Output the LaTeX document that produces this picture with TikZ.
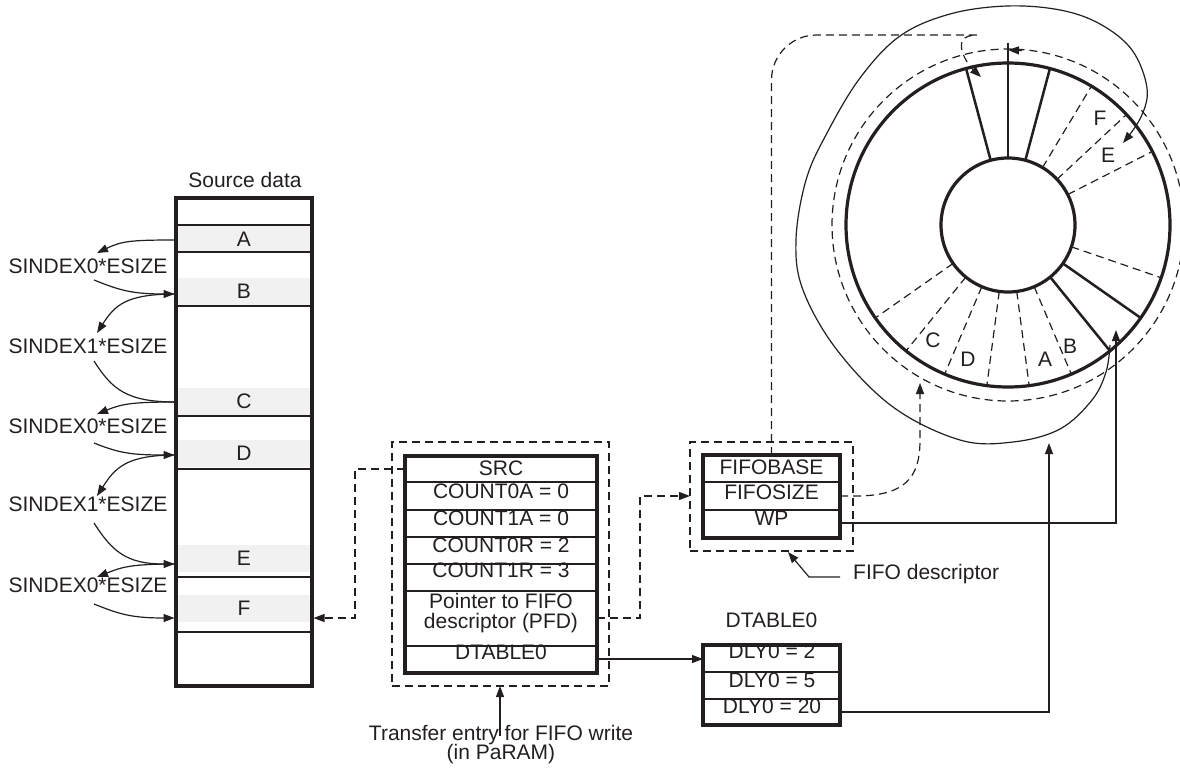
\documentclass[tikz,border=0pt]{standalone}
\usepackage{fontspec}
\setmainfont{Liberation Sans}
\usetikzlibrary{arrows.meta,calc}
\definecolor{ink}{RGB}{35,31,32}
\definecolor{cellgray}{RGB}{240,241,240}
\begin{document}
\begin{tikzpicture}[x=1pt,y=-1pt,
  fnt/.style={font=\fontsize{21}{24}\selectfont, text=ink},
  txt/.style={fnt, inner sep=0pt, anchor=base},
  thinln/.style={line width=1.2pt, draw=ink},
  dashln/.style={line width=1.2pt, draw=ink, dash pattern=on 8pt off 5pt},
  heavy/.style={draw=ink, line width=3.5pt, inner sep=0pt, outer sep=0pt},
  dbox/.style={draw=ink, line width=1.2pt, dash pattern=on 8pt off 5pt, inner sep=0pt, outer sep=0pt},
  cell/.style={fnt, fill=cellgray, inner sep=0pt, outer sep=0pt, minimum width=133pt, minimum height=27pt},
  arr/.style={-{Triangle[length=11pt,width=8pt]}},
  spoke/.style={draw=ink, line width=2.5pt},
  ring/.style={draw=ink, line width=3.2pt},
]
\useasboundingbox (0,0) rectangle (1180,771);

% ---------------- Source data column ----------------
\node[txt] (srclab) at (245,187) {Source data};
\node[cell] (cA) at (244,239) {A};
\node[cell] (cB) at (244,291) {B};
\node[cell] (cC) at (244,401) {C};
\node[cell] (cD) at (244,453) {D};
\node[cell] (cE) at (244,558) {E};
\node[cell] (cF) at (244,608) {F};
\node[heavy, minimum width=136pt, minimum height=488pt] (col) at (244,442) {};
\foreach \yy in {225,252,306,416,469,577,632}
  \draw[thinln] (col.west |- 0,\yy) -- (col.east |- 0,\yy);

% labels
\node[txt] (s1) at (88,273) {SINDEX0*ESIZE};
\node[txt] (s2) at (88,353) {SINDEX1*ESIZE};
\node[txt] (s3) at (88,433) {SINDEX0*ESIZE};
\node[txt] (s4) at (88,511) {SINDEX1*ESIZE};
\node[txt] (s5) at (88,592) {SINDEX0*ESIZE};
\coordinate (t1) at (97,253); \coordinate (b1) at (94,280);
\coordinate (t2) at (97,333); \coordinate (b2) at (94,361);
\coordinate (t3) at (97,414); \coordinate (b3) at (94,443);
\coordinate (t4) at (97,496); \coordinate (b4) at (94,523);
\coordinate (t5) at (97,577); \coordinate (b5) at (94,604);

\draw[thinln,arr] (col.west |- 0,240) .. controls +(-45,0) and +(25,-12) .. (t1);
\draw[thinln,arr,shorten >=1.5pt] (b1) .. controls +(25,10) and +(-45,0) .. (col.west |- 0,294);
\draw[thinln,arr] (col.west |- 0,294) .. controls +(-50,0) and +(18,-28) .. (t2);
\draw[thinln] (b2) .. controls +(18,28) and +(-50,0) .. (col.west |- 0,402);
\draw[thinln,arr] (col.west |- 0,402) .. controls +(-45,0) and +(25,-10) .. (t3);
\draw[thinln,arr,shorten >=1.5pt] (b3) .. controls +(25,10) and +(-45,0) .. (col.west |- 0,455);
\draw[thinln,arr] (col.west |- 0,455) .. controls +(-50,0) and +(18,-28) .. (t4);
\draw[thinln,arr,shorten >=1.5pt] (b4) .. controls +(18,28) and +(-50,0) .. (col.west |- 0,564);
\draw[thinln,arr] (col.west |- 0,564) .. controls +(-45,0) and +(25,-10) .. (t5);
\draw[thinln,arr,shorten >=1.5pt] (b5) .. controls +(25,10) and +(-45,0) .. (col.west |- 0,618);

% ---------------- Transfer entry (PaRAM) ----------------
\node[dbox, minimum width=217pt, minimum height=244pt] (tabo) at (500.5,564) {};
\node[heavy, minimum width=192pt, minimum height=217pt] (tab) at (501,564.5) {};
\foreach \yy in {482,510,537,564,591,646}
  \draw[line width=1.5pt, draw=ink] (tab.west |- 0,\yy) -- (tab.east |- 0,\yy);
\node[txt] (src) at (501,475) {SRC};
\node[txt] (c0a) at (501,498) {COUNT0A = 0};
\node[txt] (c1a) at (501,525) {COUNT1A = 0};
\node[txt] (c0r) at (501,552) {COUNT0R = 2};
\node[txt] (c1r) at (501,577) {COUNT1R = 3};
\node[txt] (pfd1) at (501,608) {Pointer to FIFO};
\node[txt] (pfd2) at (501,628) {descriptor (PFD)};
\node[txt] (dtb) at (501,659) {DTABLE0};
\node[txt] (tr1) at (501,740) {Transfer entry for FIFO write};
\node[txt] (tr2) at (501,759) {(in PaRAM)};
\coordinate (trs) at (500,736);
\draw[thinln,arr] (trs) -- (tabo.south -| trs);

\coordinate (jS) at (355,469);
\draw[dashln,arr,shorten >=1.5pt] (tab.west |- jS) -- (jS) |- (col.east |- 0,618);

% ---------------- FIFO descriptor ----------------
\node[dbox, minimum width=163pt, minimum height=109pt] (fdo) at (771.5,496.5) {};
\node[heavy, minimum width=137pt, minimum height=83pt] (fd) at (771.5,496.5) {};
\foreach \yy in {482,510}
  \draw[line width=1.5pt, draw=ink] (fd.west |- 0,\yy) -- (fd.east |- 0,\yy);
\node[txt] (fb) at (771.5,474) {FIFOBASE};
\node[txt] (fs) at (771.5,499) {FIFOSIZE};
\node[txt] (wp) at (771.5,525) {WP};
\node[txt, anchor=base west] (fdl) at (853,579) {FIFO descriptor};
\coordinate (fdl1) at (840,577);
\coordinate (fdl2) at (809,577);
\coordinate (fdA) at (788,552);
\draw[thinln,arr] (fdl1) -- (fdl2) -- (fdA);

\coordinate (jP) at (640,496);
\draw[dashln,arr] (tab.east |- 0,618) -| (jP) -- (fdo.west |- jP);

% ---------------- DTABLE0 ----------------
\node[txt] (dtl) at (771.5,627) {DTABLE0};
\node[heavy, minimum width=137pt, minimum height=80pt] (dt) at (771.5,685) {};
\foreach \yy in {672,699}
  \draw[line width=1.5pt, draw=ink] (dt.west |- 0,\yy) -- (dt.east |- 0,\yy);
\node[txt] (d1) at (772,658) {DLY0 = 2};
\node[txt] (d2) at (772,687) {DLY0 = 5};
\node[txt] (d3) at (772,713) {DLY0 = 20};
\draw[thinln,arr] (tab.east |- 0,659) -- (dt.west |- 0,659);

% ---------------- FIFO ring ----------------
\coordinate (rc) at (1008,225);
\draw[ring] (rc) circle[radius=162pt];
\draw[ring] (rc) circle[radius=67pt];
\draw[dashln] (rc) circle[radius=176pt];
\foreach \a in {-15,15,125,141}
  \draw[spoke] ($(rc)+({67*sin(\a)},{-67*cos(\a)})$) -- ($(rc)+({162*sin(\a)},{-162*cos(\a)})$);
\foreach \a in {31,47,63,109,157,172.5,187.5,203,219,235}
  \draw[dashln] ($(rc)+({67*sin(\a)},{-67*cos(\a)})$) -- ($(rc)+({162*sin(\a)},{-162*cos(\a)})$);
\draw[spoke] ($(rc)+(0,-67)$) coordinate (vb) -- ($(rc)+(0,-182)$) coordinate (vt);
\coordinate (rp) at (1008,50);
\draw[thinln,arr] ($(rp)+(14,0.5)$) -- (rp);

\node[txt] (lF) at (1100,125) {F};
\node[txt] (lE) at (1108,162) {E};
\node[txt] (lC) at (933,347) {C};
\node[txt] (lD) at (968,366) {D};
\node[txt] (lA) at (1045,366) {A};
\node[txt] (lB) at (1070,353) {B};

% spiral
\draw[thinln,arr] plot[smooth, tension=0.6] coordinates {
  (1110,345) (1106,372) (1092,400) (1060,429) (1013,442) (960,440)
  (893,407) (837,350) (803,290) (796,240) (806,180) (827,133)
  (860,78) (900,36) (950,14) (1007,6) (1060,10) (1100,24)
  (1132,50) (1147,88) (1141,117) (1123,143)};

% FIFOBASE -> ring start
\coordinate (jT) at (932,35);
\coordinate (tT) at (981,77);
\draw[dashln,arr,rounded corners=45pt] (fd.north) |- (jT) [sharp corners] .. controls +(16,0) and +(-14,-13) .. (tT);

% FIFOSIZE -> ring
\coordinate (tS) at (920,383);
\draw[dashln,arr] (fd.east |- 0,496) -- (855,496) .. controls (905,496) and (920,478) .. (920,440) -- (tS);

% WP -> ring
\coordinate (tW) at (1116,330);
\draw[thinln,arr] (fd.east |- 0,523) -| (tW);

% DLY0 = 20 -> ring
\coordinate (tD) at (1049,443);
\draw[thinln,arr] (dt.east |- 0,712) -| (tD);
\end{tikzpicture}
\end{document}
